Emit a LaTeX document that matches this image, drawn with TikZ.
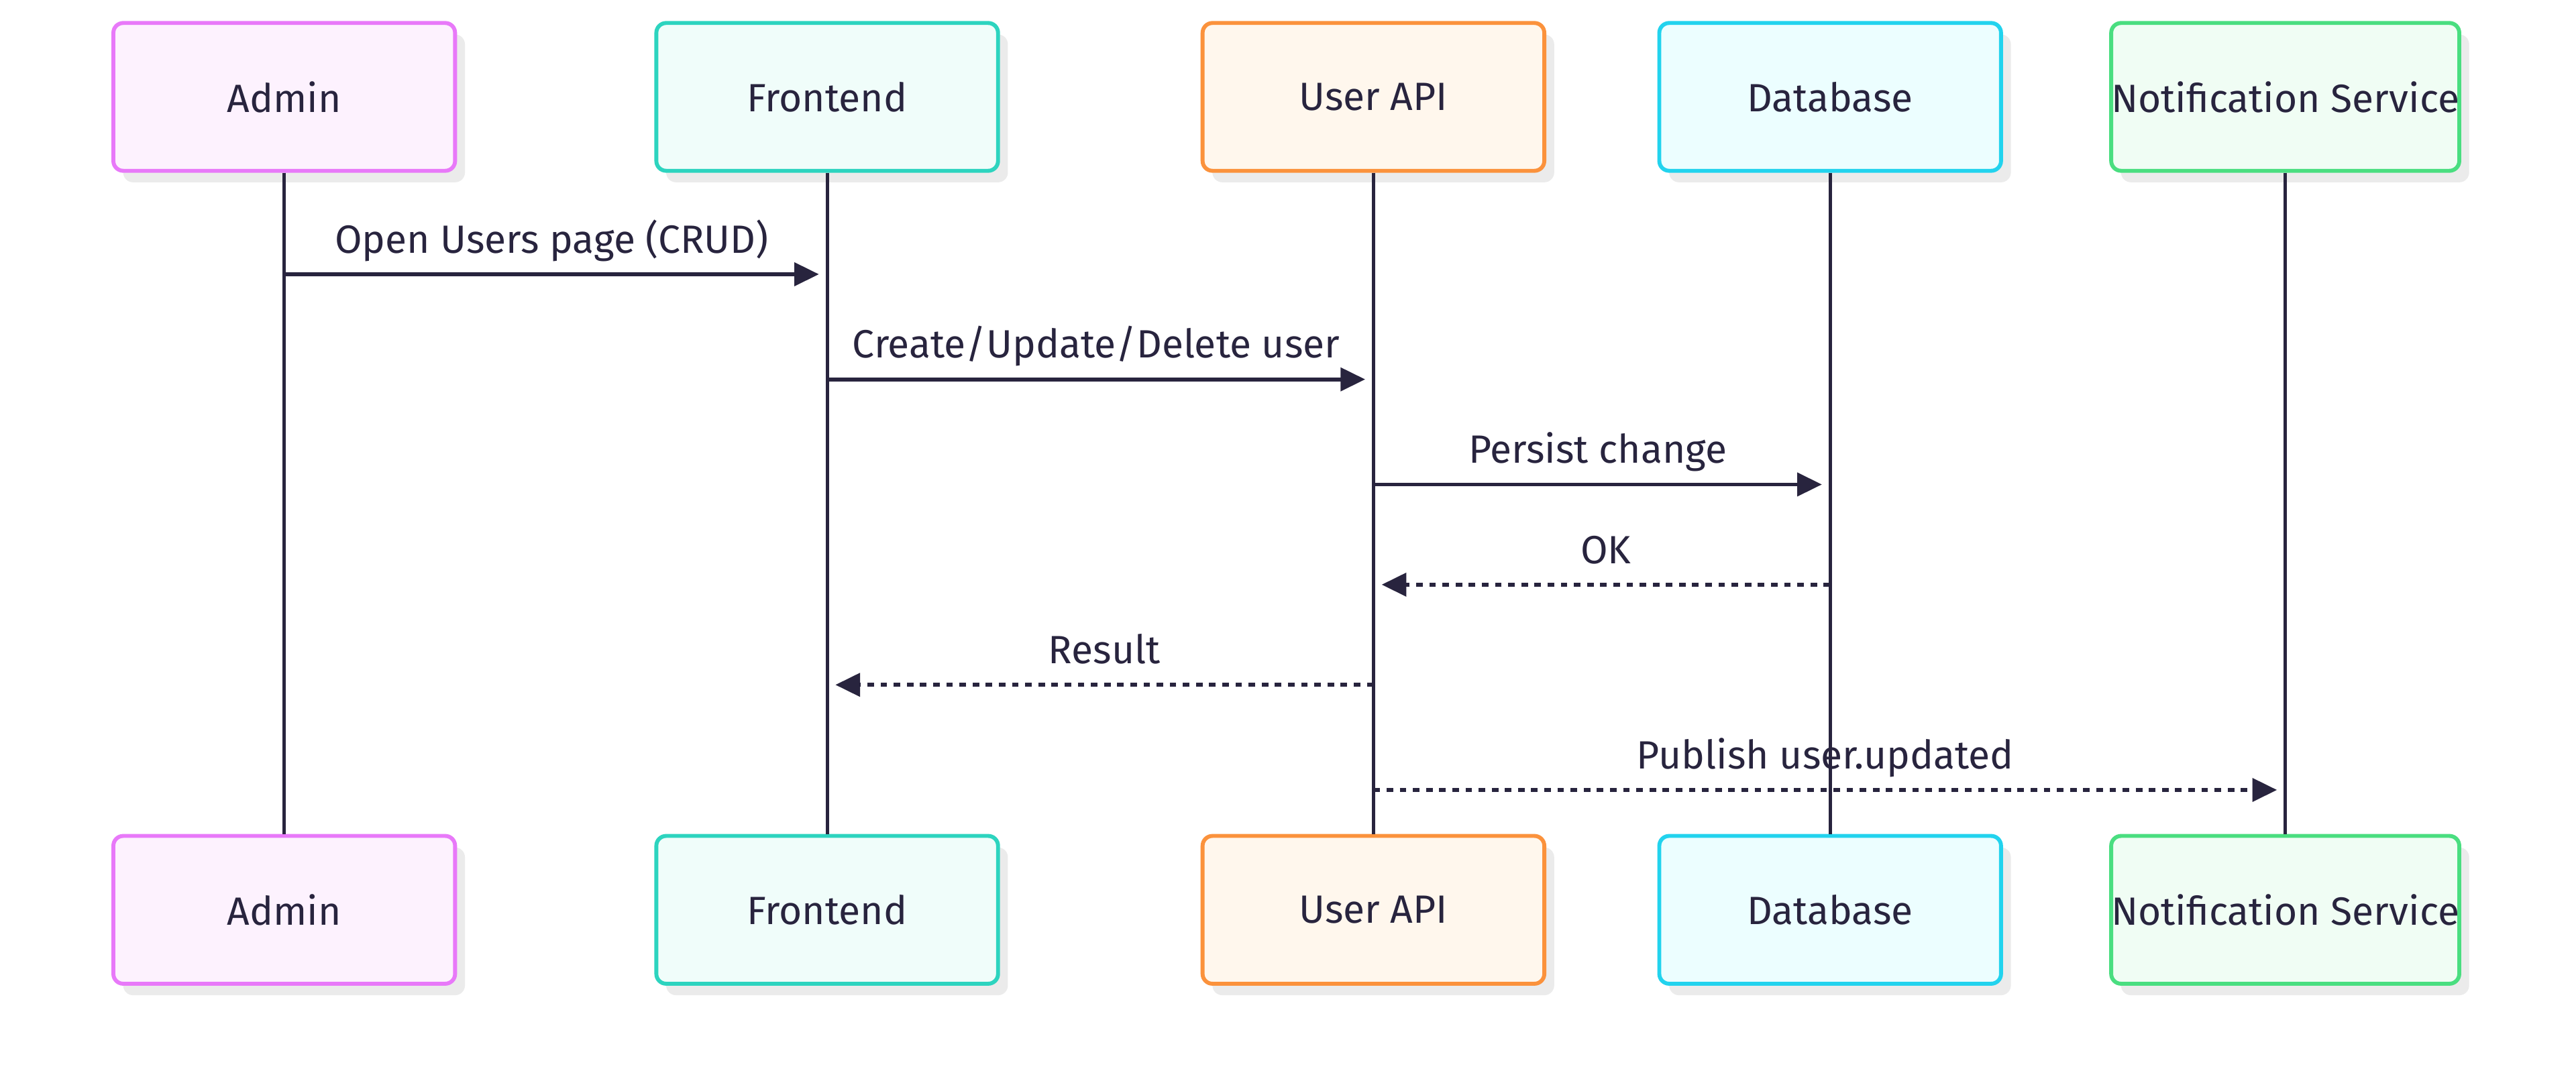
\documentclass[tikz,border=0pt]{standalone}
\usepackage{fontspec}
\setmainfont{Fira Sans}
\usetikzlibrary{arrows.meta}
\definecolor{ink}{HTML}{28243E}
\definecolor{shade}{HTML}{EBEBEB}
\definecolor{admD}{HTML}{E879F9}\definecolor{admF}{HTML}{FDF2FE}
\definecolor{feD}{HTML}{2DD4BF}\definecolor{feF}{HTML}{F0FDFA}
\definecolor{apiD}{HTML}{FB923C}\definecolor{apiF}{HTML}{FFF7ED}
\definecolor{dbD}{HTML}{22D3EE}\definecolor{dbF}{HTML}{ECFEFF}
\definecolor{ntD}{HTML}{4ADE80}\definecolor{ntF}{HTML}{F0FDF4}
\begin{document}
\begin{tikzpicture}[x=0.5pt,y=-0.5pt,
  actor/.style={rounded corners=3pt, line width=1.2pt, minimum width=104pt, minimum height=45pt,
    inner sep=0pt, font=\fontsize{12}{14}\selectfont, text=ink,
    preaction={draw=none, fill=shade, transform canvas={xshift=3pt,yshift=-3.5pt}}},
  lifeline/.style={draw=ink, line width=1pt},
  msg/.style={draw=ink, line width=1.2pt, -{Triangle[length=7.5pt,width=7pt]}},
  reply/.style={msg, dash pattern=on 2pt off 2pt},
  lbl/.style={font=\fontsize{12}{14}\selectfont, text=ink, inner sep=0pt, anchor=base}]
\useasboundingbox (0,0) rectangle (1568,658);
\fill[white] (0,0) rectangle (1568,658);
% top actors
\node[actor, draw=admD, fill=admF] (adm) at (173,59) {Admin};
\node[actor, draw=feD, fill=feF] (fe) at (503.5,59) {Frontend};
\node[actor, draw=apiD, fill=apiF] (api) at (836,59) {User API};
\node[actor, draw=dbD, fill=dbF] (db) at (1114,59) {Database};
\node[actor, draw=ntD, fill=ntF] (nt) at (1391,59) {Notification Service};
% bottom actors
\node[actor, draw=admD, fill=admF] (adm2) at (173,554) {Admin};
\node[actor, draw=feD, fill=feF] (fe2) at (503.5,554) {Frontend};
\node[actor, draw=apiD, fill=apiF] (api2) at (836,554) {User API};
\node[actor, draw=dbD, fill=dbF] (db2) at (1114,554) {Database};
\node[actor, draw=ntD, fill=ntF] (nt2) at (1391,554) {Notification Service};
% lifelines
\draw[lifeline] (adm.south) -- (adm2.north);
\draw[lifeline] (fe.south) -- (fe2.north);
\draw[lifeline] (api.south) -- (api2.north);
\draw[lifeline] (db.south) -- (db2.north);
\draw[lifeline] (nt.south) -- (nt2.north);
% messages
\draw[msg] (adm.south |- 0,167) -- ([xshift=-2.5pt]fe.south |- 0,167)
  node[lbl, midway, yshift=6.5pt] {Open Users page (CRUD)};
\draw[msg] (fe.south |- 0,231) -- ([xshift=-2.5pt]api.south |- 0,231)
  node[lbl, midway, yshift=6.5pt] {Create/Update/Delete user};
\draw[msg] (api.south |- 0,295) -- ([xshift=-2.5pt]db.south |- 0,295)
  node[lbl, midway, yshift=6.5pt] {Persist change};
\draw[reply] (db.south |- 0,356) -- ([xshift=2.5pt]api.south |- 0,356)
  node[lbl, midway, yshift=6.5pt] {OK};
\draw[reply] (api.south |- 0,417) -- ([xshift=2.5pt]fe.south |- 0,417)
  node[lbl, midway, yshift=6.5pt] {Result};
\draw[reply] (api.south |- 0,481) -- ([xshift=-2.5pt]nt.south |- 0,481)
  node[lbl, midway, yshift=6.5pt] {Publish user.updated};
\end{tikzpicture}
\end{document}
